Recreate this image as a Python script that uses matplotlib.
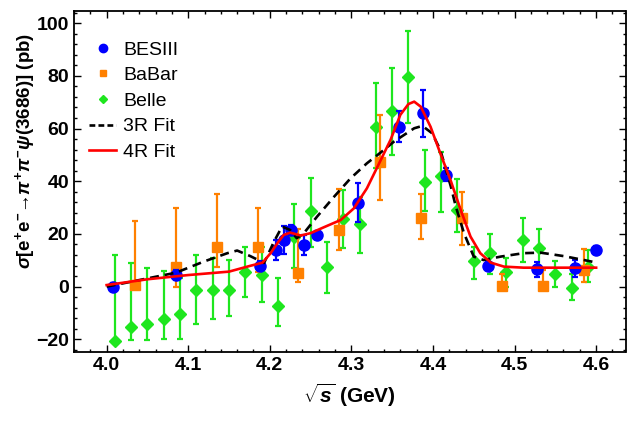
import numpy as np
import matplotlib
matplotlib.use('Agg')
import matplotlib.pyplot as plt
from matplotlib.lines import Line2D

plt.rcParams['font.family'] = ['Liberation Sans', 'DejaVu Sans']
plt.rcParams['font.weight'] = 'bold'
plt.rcParams['mathtext.fontset'] = 'custom'
plt.rcParams['mathtext.rm'] = 'Liberation Sans:bold'
plt.rcParams['mathtext.it'] = 'Liberation Sans:italic:bold'
plt.rcParams['mathtext.bf'] = 'Liberation Sans:bold'
plt.rcParams['mathtext.sf'] = 'Liberation Sans:bold'

# BESIII (symmetric errors)
bes_x = [4.0076, 4.0854, 4.1886, 4.2077, 4.2171, 4.2263, 4.2417, 4.2580,
         4.3079, 4.3583, 4.3874, 4.4156, 4.4671, 4.5271, 4.5745, 4.5995]
bes_y = [0.0, 4.4, 7.8, 13.9, 17.7, 21.5, 15.8, 19.6,
         31.9, 60.7, 65.8, 42.4, 7.9, 6.6, 7.0, 13.9]
bes_err = [1.5, 2.0, 2.0, 3.8, 5.3, 2.0, 3.8, 1.5,
           7.3, 5.8, 9.0, 2.5, 1.5, 2.9, 3.2, 1.5]

# BaBar (asymmetric: lower / upper bounds)
babar_x = [4.035, 4.085, 4.135, 4.185, 4.235, 4.285, 4.335, 4.385,
           4.435, 4.485, 4.535, 4.585]
babar_y = [0.6, 7.4, 15.2, 15.2, 5.3, 21.5, 47.4, 26.0,
           26.0, 0.3, 0.3, 6.3]
babar_lo = [0.0, -0.2, 7.4, 5.7, 1.9, 13.9, 32.9, 18.0,
            15.8, 0.3, 0.3, 1.9]
babar_hi = [25.0, 30.0, 35.1, 30.0, 21.8, 37.0, 65.2, 35.1,
            36.0, 4.8, 6.3, 14.2]

# Belle (asymmetric)
belle_x = [4.01, 4.03, 4.05, 4.07, 4.09, 4.11, 4.13, 4.15, 4.17, 4.19,
           4.21, 4.23, 4.25, 4.27, 4.29, 4.31, 4.33, 4.35, 4.37, 4.39,
           4.41, 4.43, 4.45, 4.47, 4.49, 4.51, 4.53, 4.55, 4.57, 4.59]
belle_y = [-20.5, -15.2, -14.3, -12.4, -10.4, -1.3, -1.3, -1.3, 5.7, 4.4,
           -7.3, 19.0, 28.7, 7.6, 25.6, 23.8, 60.7, 66.7, 79.7, 39.8,
           42.0, 29.1, 9.9, 12.9, 5.7, 17.7, 14.8, 4.7, -0.4, 7.6]
belle_lo = [-20.5, -20.2, -20.2, -20.0, -20.0, -14.2, -12.3, -11.0, -4.0, -6.0,
            -14.9, 7.0, 15.2, -2.3, 14.6, 12.9, 44.9, 50.0, 62.0, 28.8,
            28.5, 20.9, 2.8, 4.8, 0.0, 9.5, 7.6, 0.0, -5.0, 1.9]
belle_hi = [12.0, 9.1, 7.0, 6.1, 3.2, 12.0, 10.8, 10.1, 15.2, 15.2,
            3.2, 31.3, 41.1, 17.1, 36.7, 34.2, 77.2, 83.1, 97.0, 51.9,
            51.2, 40.8, 15.0, 20.0, 10.8, 26.0, 21.9, 9.9, 4.8, 13.9]

# fit curves
fit3_x = [4.000, 4.040, 4.085, 4.119, 4.148, 4.160, 4.176, 4.193, 4.205, 4.215,
          4.225, 4.233, 4.241, 4.258, 4.279, 4.299, 4.319, 4.340, 4.352, 4.377,
          4.387, 4.399, 4.409, 4.422, 4.428, 4.438, 4.450, 4.462, 4.483, 4.511,
          4.532, 4.560, 4.585, 4.601]
fit3_y = [0.0, 2.5, 5.3, 9.5, 12.7, 13.7, 11.6, 9.0, 17.0, 22.8,
          21.5, 18.4, 20.0, 26.6, 34.2, 41.1, 46.8, 51.9, 55.0, 60.1,
          61.0, 58.2, 51.9, 37.9, 30.4, 20.3, 11.4, 10.1, 11.4, 12.7,
          12.9, 11.6, 10.1, 9.1]

fit4_x = [4.000, 4.050, 4.100, 4.150, 4.176, 4.191, 4.201, 4.210, 4.217, 4.225,
          4.238, 4.250, 4.266, 4.287, 4.303, 4.319, 4.332, 4.348, 4.360, 4.370,
          4.377, 4.385, 4.397, 4.409, 4.422, 4.434, 4.446, 4.458, 4.471, 4.487,
          4.511, 4.550, 4.600]
fit4_y = [0.6, 2.8, 4.4, 5.7, 7.9, 9.1, 12.7, 16.8, 19.6, 20.5,
          19.4, 20.3, 22.5, 25.3, 29.7, 37.3, 45.5, 55.7, 65.2, 69.3,
          70.2, 68.3, 60.7, 50.6, 40.0, 29.1, 19.0, 12.7, 9.1, 7.6,
          7.2, 7.2, 7.2]

c_bes = '#0000ff'
c_babar = '#ff8000'
c_belle = '#1ee61e'

fig = plt.figure(figsize=(6.27, 4.23), dpi=100)
ax = fig.add_axes([74/627, 1-352/423, (625.5-74)/627, (352-11)/423])

by = np.array(belle_y)
ax.errorbar(belle_x, belle_y, yerr=[by-np.array(belle_lo), np.array(belle_hi)-by],
            fmt='D', color=c_belle, ms=6, elinewidth=1.6, capsize=2, capthick=1.6, zorder=2)
ay = np.array(babar_y)
ax.errorbar(babar_x, babar_y, yerr=[ay-np.array(babar_lo), np.array(babar_hi)-ay],
            fmt='s', color=c_babar, ms=6.5, elinewidth=1.6, capsize=2, capthick=1.6, zorder=3)
ax.errorbar(bes_x, bes_y, yerr=bes_err, fmt='o', color=c_bes, ms=8,
            elinewidth=1.6, capsize=2, capthick=1.6, zorder=4)

ax.plot(fit3_x, fit3_y, color='black', lw=1.9, ls=(0, (3.4, 2.2)), zorder=5)
ax.plot(fit4_x, fit4_y, color='#ff0000', lw=1.9, zorder=6)

ax.set_xlim(3.961, 4.636)
ax.set_ylim(-24.8, 104.6)
ax.set_xticks([4.0, 4.1, 4.2, 4.3, 4.4, 4.5, 4.6])
ax.set_xticks(np.arange(3.96, 4.64, 0.02), minor=True)
ax.set_yticks([-20, 0, 20, 40, 60, 80, 100])
ax.set_yticks(np.arange(-24, 105, 4), minor=True)
ax.tick_params(which='both', direction='in', top=True, right=True, labelsize=14, width=1)
ax.tick_params(which='major', length=5)
ax.tick_params(which='minor', length=2.5)
for lab in ax.get_xticklabels() + ax.get_yticklabels():
    lab.set_fontweight('bold')
for sp in ax.spines.values():
    sp.set_linewidth(1.3)

ax.set_xlabel(r'$\sqrt{s}$ (GeV)', fontsize=15, fontweight='bold', labelpad=6)
ax.set_ylabel(r'$\sigma$[e$^{+}$e$^{-}$→$\pi^{+}\pi^{-}\psi$(3686)] (pb)',
              fontsize=13.5, fontweight='bold')
ax.yaxis.set_label_coords(-0.067, 0.59)

handles = [Line2D([], [], marker='o', color=c_bes, ls='none', ms=6),
           Line2D([], [], marker='s', color=c_babar, ls='none', ms=4.5),
           Line2D([], [], marker='D', color=c_belle, ls='none', ms=4),
           Line2D([], [], color='black', lw=1.9, ls=(0, (2.2, 1.2))),
           Line2D([], [], color='#ff0000', lw=1.9)]
labels = ['BESIII', 'BaBar', 'Belle', '3R Fit', '4R Fit']
leg = ax.legend(handles, labels, loc='upper left', bbox_to_anchor=(0.027, 0.912),
                frameon=False, fontsize=14, handlelength=1.4, handletextpad=0.35,
                labelspacing=0.41, borderpad=0, borderaxespad=0)
for t in leg.get_texts():
    t.set_fontweight('normal')

fig.savefig('out.png', dpi=100)
